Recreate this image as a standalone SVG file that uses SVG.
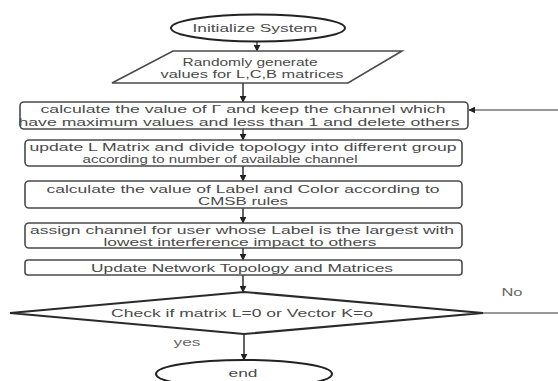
<svg xmlns="http://www.w3.org/2000/svg" width="558" height="381" viewBox="0 0 558 381">
<style>
  .shape { fill: #ffffff; stroke: #4a4a4a; stroke-width: 1.6; }
  .oval { fill: #ffffff; stroke: #222222; stroke-width: 2; }
  .dia { fill: #ffffff; stroke: #2a2a2a; stroke-width: 2; }
  .t { font-family: "Liberation Sans", Arial, sans-serif; font-size: 10.5px; fill: #4a4a4a; text-anchor: middle; }
  .lbl { font-family: "Liberation Sans", Arial, sans-serif; font-size: 10.5px; fill: #666666; text-anchor: middle; }
  .conn { fill: none; stroke: #222222; stroke-width: 1.4; }
</style>
<defs>
  <marker id="ah" viewBox="0 0 10 10" refX="9" refY="5" markerWidth="7" markerHeight="7" orient="auto" markerUnits="userSpaceOnUse">
    <path d="M0,0 L10,5 L0,10 z" fill="#222222"/>
  </marker>
</defs>
<rect width="558" height="381" fill="#ffffff"/>

<g id="connectors">
  <line class="conn" x1="257" y1="42" x2="257" y2="51" marker-end="url(#ah)" style="stroke:#2b3f5c"/>
  <line class="conn" x1="243" y1="83" x2="243" y2="102" marker-end="url(#ah)"/>
  <line class="conn" x1="243" y1="129" x2="243" y2="140" marker-end="url(#ah)"/>
  <line class="conn" x1="243" y1="166" x2="243" y2="181" marker-end="url(#ah)"/>
  <line class="conn" x1="243" y1="208" x2="243" y2="223" marker-end="url(#ah)"/>
  <line class="conn" x1="243" y1="248" x2="243" y2="260" marker-end="url(#ah)"/>
  <line class="conn" x1="243" y1="275" x2="243" y2="292" marker-end="url(#ah)"/>
  <line class="conn" x1="244" y1="334" x2="244" y2="360" marker-end="url(#ah)"/>
  <polyline class="conn" points="483,313 566,313 566,110 469,110" marker-end="url(#ah)" style="stroke:#777777"/>
  <text class="lbl" x="512" y="296" textLength="21" lengthAdjust="spacingAndGlyphs">No</text>
  <text class="lbl" x="187" y="346" textLength="27" lengthAdjust="spacingAndGlyphs">yes</text>
</g>

<g id="start">
  <ellipse class="oval" cx="258" cy="28" rx="87" ry="13.5"/>
  <text class="t" x="255" y="32" textLength="125" lengthAdjust="spacingAndGlyphs">Initialize System</text>
</g>

<g id="input">
  <polygon class="shape" points="173,51 402,51 348,83 112,83"/>
  <text class="t" x="250" y="66" textLength="135" lengthAdjust="spacingAndGlyphs">Randomly generate</text>
  <text class="t" x="252" y="78" textLength="183" lengthAdjust="spacingAndGlyphs">values for L,C,B matrices</text>
</g>

<g id="step1">
  <rect class="shape" x="20" y="102" width="448" height="27" rx="4"/>
  <text class="t" x="243" y="113" textLength="405" lengthAdjust="spacingAndGlyphs">calculate the value of  Γ and keep the channel which</text>
  <text class="t" x="239" y="125.5" textLength="441" lengthAdjust="spacingAndGlyphs">have maximum values and less than 1 and delete others</text>
</g>

<g id="step2">
  <rect class="shape" x="25" y="140" width="437" height="26" rx="4"/>
  <text class="t" x="243" y="151" textLength="427" lengthAdjust="spacingAndGlyphs">update L Matrix and divide topology into different group</text>
  <text class="t" x="220" y="163" textLength="275" lengthAdjust="spacingAndGlyphs">according to number of available channel</text>
</g>

<g id="step3">
  <rect class="shape" x="25" y="181" width="437" height="27" rx="4"/>
  <text class="t" x="243" y="192.5" textLength="393" lengthAdjust="spacingAndGlyphs">calculate the value of Label and Color according to</text>
  <text class="t" x="243" y="204.5" textLength="90" lengthAdjust="spacingAndGlyphs">CMSB rules</text>
</g>

<g id="step4">
  <rect class="shape" x="25" y="223" width="437" height="25" rx="4"/>
  <text class="t" x="242" y="234" textLength="424" lengthAdjust="spacingAndGlyphs">assign channel for user whose Label is the largest with</text>
  <text class="t" x="240" y="246" textLength="273" lengthAdjust="spacingAndGlyphs">lowest interference impact to others</text>
</g>

<g id="step5">
  <rect class="shape" x="25" y="260" width="437" height="15" rx="3"/>
  <text class="t" x="242" y="272" textLength="302" lengthAdjust="spacingAndGlyphs">Update Network Topology and Matrices</text>
</g>

<g id="decision">
  <polygon class="dia" points="10,313 244,292 483,313 244,334"/>
  <text class="t" x="242" y="317" textLength="262" lengthAdjust="spacingAndGlyphs">Check if matrix L=0 or Vector K=o</text>
</g>

<g id="end">
  <ellipse class="oval" cx="244" cy="374" rx="88" ry="14"/>
  <text class="t" x="243" y="377" textLength="29" lengthAdjust="spacingAndGlyphs">end</text>
</g>
</svg>
